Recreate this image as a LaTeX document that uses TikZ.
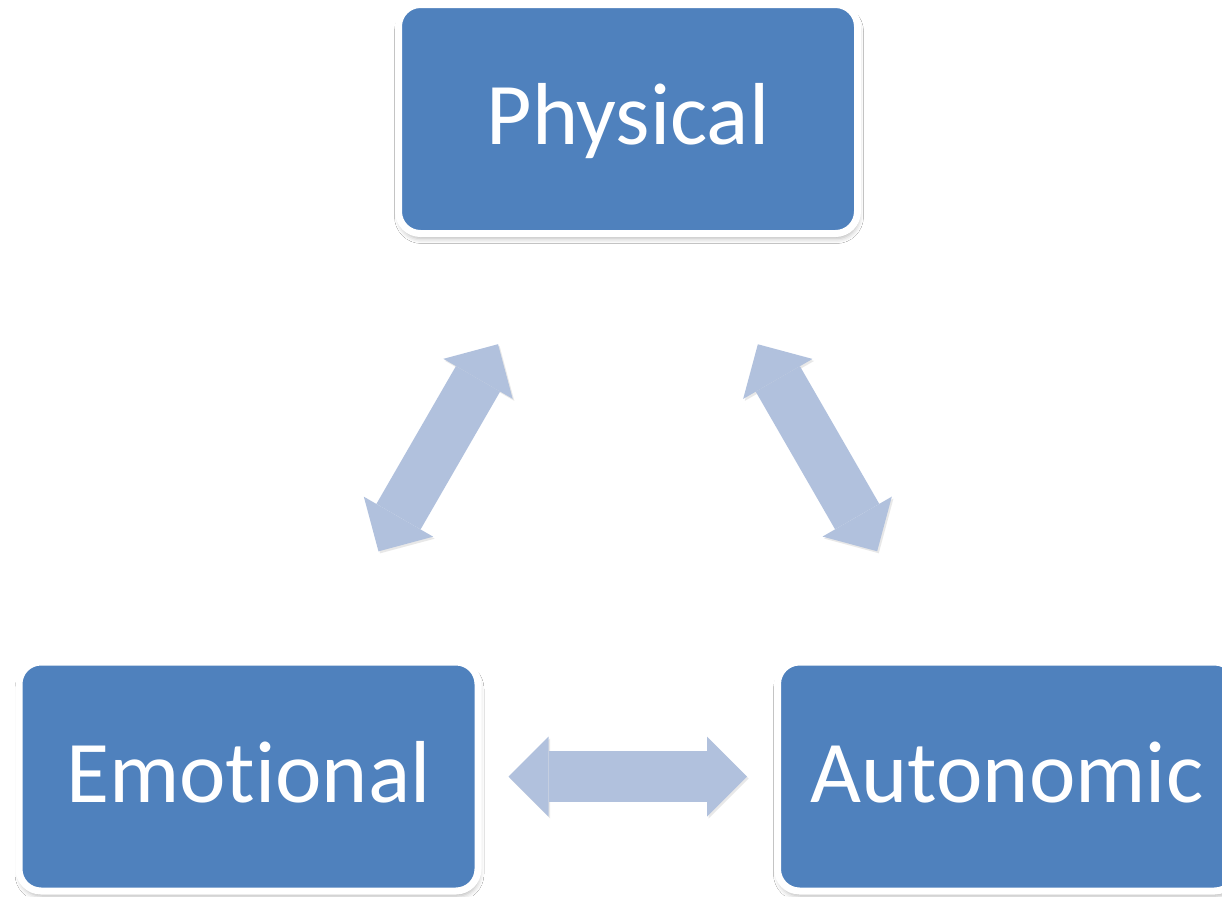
\documentclass[tikz,border=0pt]{standalone}
\usepackage{fontspec}
\setmainfont{Carlito}[Ligatures=NoCommon]
\usetikzlibrary{arrows.meta,shadows.blur}
\definecolor{boxblue}{HTML}{4F81BD}
\definecolor{linkblue}{HTML}{B1C1DD}
\tikzset{
  facet/.style={draw=white, line width=3.5pt, fill=boxblue, rounded corners=11pt,
    minimum width=229.5pt, minimum height=114.5pt, text=white,
    font=\fontsize{44}{52}\selectfont, text height=30pt, text depth=4.5pt,
    blur shadow={shadow xshift=0.5pt, shadow yshift=-2.5pt,
      shadow blur radius=2.5pt, shadow opacity=30}},
  blocktip/.tip={Triangle[length=20pt, width=40pt, line width=0pt]},
  link/.style={draw=linkblue, line width=25.5pt, blocktip-blocktip,
    shorten <=130pt, shorten >=130pt,
    preaction={draw=black!9, transform canvas={shift={(0.8pt,-1pt)}}}}
}

\begin{document}
\begin{tikzpicture}[x=0.5pt, y=-0.5pt]
  \useasboundingbox (0,0) rectangle (1222,896);
  \clip (0,0) rectangle (1222,896);
  \fill[white] (0,0) rectangle (1222,896);

  \node[facet] (phys) at (628,119) {Physical};
  \node[facet] (emo) at (248.5,776.5) {Emotional};
  \node[facet] (auto) at (1007,776.5) {Autonomic};

  \draw[link] (emo.center) -- (phys.center);
  \draw[link] (auto.center) -- (phys.center);
  \draw[link] (emo.center) -- (auto.center);
\end{tikzpicture}
\end{document}
